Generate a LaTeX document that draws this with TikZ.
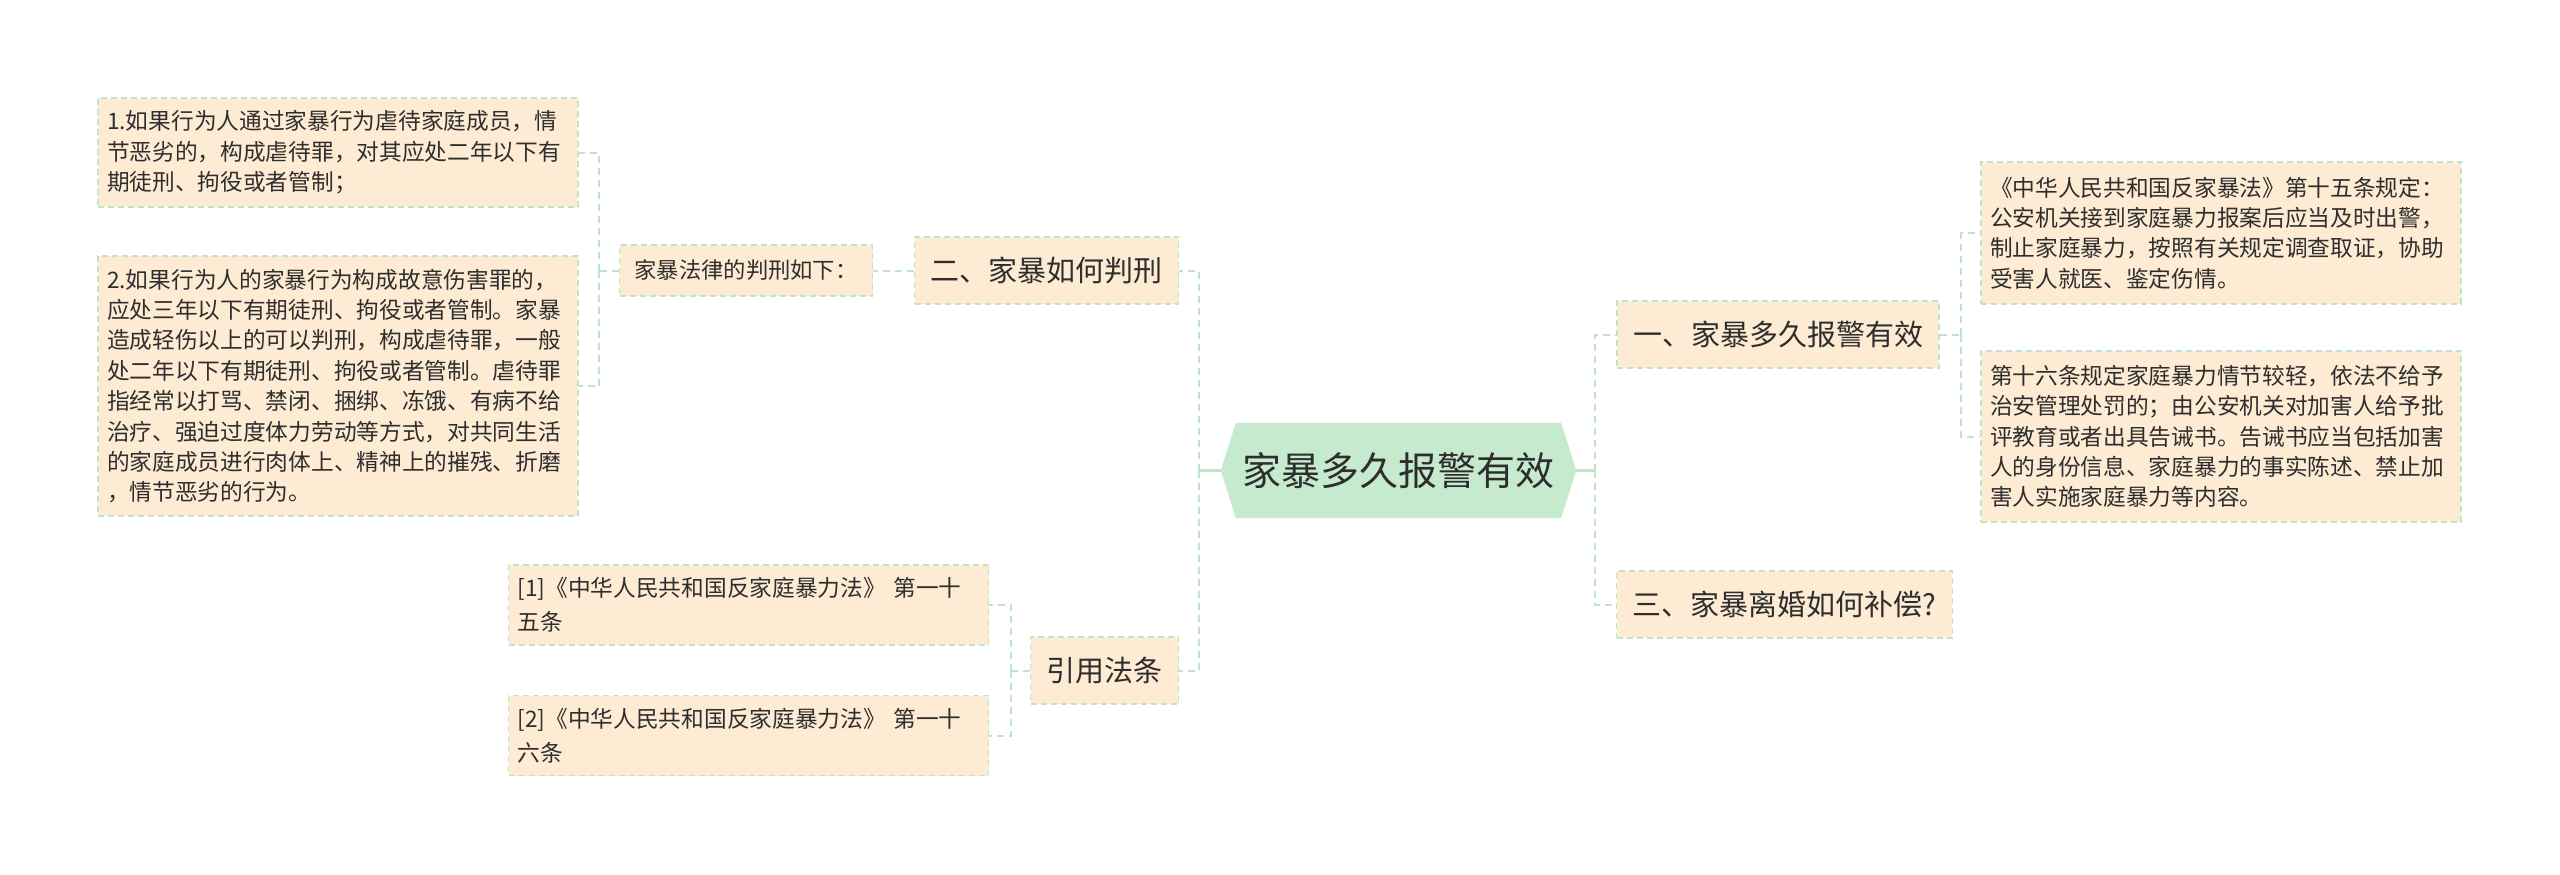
\documentclass[tikz,border=0pt]{standalone}
\usepackage{fontspec}
\setmainfont{Noto Sans CJK SC}
\usepackage{xcolor}
\usetikzlibrary{positioning, calc, backgrounds}

\definecolor{boxfill}{HTML}{FDEBD3}
\definecolor{linegreen}{HTML}{BFE4C8}
\definecolor{hubgreen}{HTML}{C6EACD}
\definecolor{inkgray}{HTML}{2E2E2E}

\begin{document}
\begin{tikzpicture}[
    x=1pt, y=-1pt,
    every node/.style={text=inkgray},
    note/.style={rectangle, draw=linegreen, fill=boxfill, dash pattern=on 6pt off 4pt,
                 line width=1.5pt, text width=462pt, inner xsep=9pt, inner ysep=6pt,
                 align=left, font=\fontsize{22.7}{30.4}\selectfont},
    topic/.style={rectangle, draw=linegreen, fill=boxfill, dash pattern=on 6pt off 4pt,
                  line width=1.5pt, inner xsep=16pt, minimum height=67pt,
                  font=\fontsize{29}{34}\selectfont},
    tag/.style={rectangle, draw=linegreen, fill=boxfill, dash pattern=on 6pt off 4pt,
                line width=1.5pt, inner xsep=15pt, minimum height=51pt,
                font=\fontsize{22.3}{26}\selectfont},
    hub/.style={rectangle, minimum width=325pt, minimum height=95pt,
                font=\fontsize{39}{44}\selectfont},
    link/.style={draw=linegreen, line width=2pt, dash pattern=on 7pt off 5pt},
    stub/.style={draw=linegreen, line width=2.5pt},
]
\useasboundingbox (0,0) rectangle (2560,875);

\node[hub] (center) at (1398.5,470.5) {家暴多久报警有效};
\begin{scope}[on background layer]
  \coordinate (tipL) at ($(center.west)+(-15,0)$);
  \coordinate (tipR) at ($(center.east)+(15,0)$);
  \fill[hubgreen] (center.north west) -- (center.north east) -- (tipR)
    -- (center.south east) -- (center.south west) -- (tipL) -- cycle;
\end{scope}

\node[topic] (judge) at (1046.5,270.5) {二、家暴如何判刑};
\node[tag] (rule) at (746,270.5) {家暴法律的判刑如下：};
\node[note, minimum height=109pt] (caseA) at (338,152.5)
  {1.如果行为人通过家暴行为虐待家庭成员，情\\节恶劣的，构成虐待罪，对其应处二年以下有\\期徒刑、拘役或者管制；};
\node[note, minimum height=260pt] (caseB) at (338,386)
  {2.如果行为人的家暴行为构成故意伤害罪的，\\应处三年以下有期徒刑、拘役或者管制。家暴\\造成轻伤以上的可以判刑，构成虐待罪，一般\\处二年以下有期徒刑、拘役或者管制。虐待罪\\指经常以打骂、禁闭、捆绑、冻饿、有病不给\\治疗、强迫过度体力劳动等方式，对共同生活\\的家庭成员进行肉体上、精神上的摧残、折磨\\，情节恶劣的行为。};

\node[topic] (cite) at (1104.5,670.5) {引用法条};
\node[note, minimum height=80pt, font=\fontsize{22.7}{34}\selectfont] (refA) at (748.5,605)
  {[1]《中华人民共和国反家庭暴力法》 第一十\\五条};
\node[note, minimum height=80pt, font=\fontsize{22.7}{34}\selectfont] (refB) at (748.5,735.5)
  {[2]《中华人民共和国反家庭暴力法》 第一十\\六条};

\node[topic] (police) at (1778,334.5) {一、家暴多久报警有效};
\node[topic] (divorce) at (1784.5,604.5) {三、家暴离婚如何补偿?};
\node[note, minimum height=142pt] (lawA) at (2221,233)
  {《中华人民共和国反家暴法》第十五条规定：\\公安机关接到家庭暴力报案后应当及时出警，\\制止家庭暴力，按照有关规定调查取证，协助\\受害人就医、鉴定伤情。};
\node[note, minimum height=171pt] (lawB) at (2221,436.5)
  {第十六条规定家庭暴力情节较轻，依法不给予\\治安管理处罚的；由公安机关对加害人给予批\\评教育或者出具告诫书。告诫书应当包括加害\\人的身份信息、家庭暴力的事实陈述、禁止加\\害人实施家庭暴力等内容。};

\coordinate (jL) at (1199,470.5);
\coordinate (jR) at (1595,470.5);
\coordinate (jRule) at (599,270.5);
\coordinate (jCite) at (1011,670.5);
\coordinate (jPolice) at (1961,334.5);

\draw[stub] (tipL) -- (jL);
\draw[link] (jL) |- (judge.east);
\draw[link] (jL) |- (cite.east);
\draw[stub] (tipR) -- (jR);
\draw[link] (jR) |- (police.west);
\draw[link] (jR) |- (divorce.west);

\draw[link] (judge.west) -- (rule.east);
\draw[link] (rule.west) -- (jRule);
\draw[link] (jRule) |- (caseA.east);
\draw[link] (jRule) |- (caseB.east);

\draw[link] (cite.west) -- (jCite);
\draw[link] (jCite) |- (refA.east);
\draw[link] (jCite) |- (refB.east);

\draw[link] (police.east) -- (jPolice);
\draw[link] (jPolice) |- (lawA.west);
\draw[link] (jPolice) |- (lawB.west);

\end{tikzpicture}
\end{document}
